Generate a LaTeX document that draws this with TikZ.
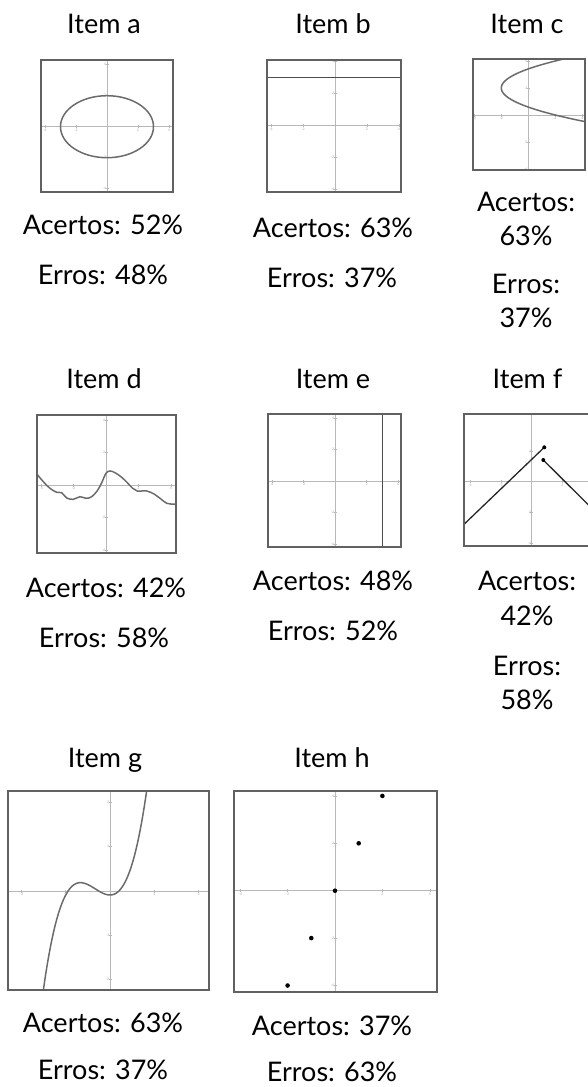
\documentclass[tikz,border=0pt]{standalone}
\usepackage{fontspec}
\setmainfont{Lato}
\usepackage{tikz}

\definecolor{framegray}{gray}{0.38}
\definecolor{axisgray}{gray}{0.72}
\definecolor{curvegray}{gray}{0.42}
\definecolor{linegray}{gray}{0.30}

\tikzset{
  frameline/.style={draw=framegray, line width=1.2pt},
  axisline/.style={draw=axisgray, line width=1pt},
  tickmark/.style={draw=axisgray, line width=0.6pt},
  ticklabel/.style={text=gray!70, font=\fontsize{3.5}{4}\selectfont, inner sep=0.5pt},
  curveline/.style={draw=curvegray, line width=1.5pt},
  graphline/.style={draw=linegray, line width=1.2pt},
  blackline/.style={draw=black!85, line width=1.3pt},
  itemtext/.style={font=\fontsize{27}{32}\selectfont, inner sep=0pt, anchor=base}
}

% axes of one small plot: left, top, right, bottom, origin x, origin y, unit, ticks
\newcommand{\plotaxes}[8]{%
  \draw[axisline] (#1,#6) -- (#3,#6);
  \draw[axisline] (#5,#2) -- (#5,#4);
  \foreach \tk in {#8} {
    \draw[tickmark] ({#5+\tk*#7},{#6-1.5}) -- ({#5+\tk*#7},{#6+1.5})
      node[ticklabel, below] {\tk};
    \draw[tickmark] ({#5-1.5},{#6-\tk*#7}) -- ({#5+1.5},{#6-\tk*#7})
      node[ticklabel, left=1.5pt] {\tk};
  }
}

\begin{document}
\begin{tikzpicture}[x=1pt, y=-1pt]
  \useasboundingbox (0,0) rectangle (587,1087);

  % item a
  \node[itemtext] (titlea) at (104,33.5) {Item a};
  \plotaxes{41}{60}{173}{192}{107}{126.7}{15.5}{-4,-2,2,4}
  \draw[curveline] (107,126.7) ellipse (46.5pt and 31pt);
  \draw[frameline] (41,60) rectangle (173,192);
  \node[itemtext] (acertosa) at (103,234.5) {Acertos: 52\%};
  \node[itemtext] (errosa) at (103,284.5) {Erros: 48\%};

  % item b
  \node[itemtext] (titleb) at (333,33.5) {Item b};
  \plotaxes{267}{60}{401}{192}{335}{125.7}{16}{-4,-2,2,4}
  \draw[graphline] (267,77.7) -- (401,77.7);
  \draw[frameline] (267,60) rectangle (401,192);
  \draw[frameline, line width=2pt] (267,192) -- (401,192);
  \node[itemtext] (acertosb) at (333,237.5) {Acertos: 63\%};
  \node[itemtext] (errosb) at (332,287.5) {Erros: 37\%};

  % item c
  \node[itemtext] (titlec) at (527,33.5) {Item c};
  \plotaxes{473}{59}{585}{170}{528.3}{115}{13.5}{-4,-2,2,4}
  \begin{scope}
    \clip (473,59) rectangle (585,170);
    \draw[curveline, smooth, domain=-1:5, samples=60]
      plot ({528.3+13.5*((\x-2)*(\x-2)-2)}, {115-13.5*\x});
  \end{scope}
  \draw[frameline] (473,59) rectangle (585,170);
  \node[itemtext] (acertosc) at (526,211) {Acertos:};
  \node[itemtext] (acertospc) at (526,245) {63\%};
  \node[itemtext] (errosc) at (526,293) {Erros:};
  \node[itemtext] (errospc) at (526,327) {37\%};

  % item d
  \node[itemtext] (titled) at (104,388.5) {Item d};
  \plotaxes{37}{415}{176}{553}{106}{485}{16.2}{-4,-2,2,4}
  \begin{scope}
    \clip (37,415) rectangle (176,553);
    \draw[curveline] plot[smooth, tension=0.6] coordinates {
      (36,473) (43.3,481.7) (50,488.3) (56.7,492.3) (61.7,492.7)
      (66.7,498) (73.3,499.3) (80,496.7) (86,498.3) (91.7,496.7)
      (97.3,490.7) (101.7,482.7) (106,473.3) (110,471) (115,472.7)
      (121.7,477.3) (127.3,482.7) (132.7,488.3) (137.3,491) (146.7,491)
      (154,494) (160,498.3) (166.7,503.3) (172,504.2) (177,504)};
  \end{scope}
  \draw[frameline] (37,415) rectangle (176,553);
  \node[itemtext] (acertosd) at (106,597.5) {Acertos: 42\%};
  \node[itemtext] (errosd) at (104,647.5) {Erros: 58\%};

  % item e
  \node[itemtext] (titlee) at (333,388.5) {Item e};
  \plotaxes{268}{414}{401}{547}{335}{481}{15.8}{-4,-2,2,4}
  \draw[graphline] (382.4,414) -- (382.4,547);
  \draw[frameline] (268,414) rectangle (401,547);
  \node[itemtext] (acertose) at (333,590) {Acertos: 48\%};
  \node[itemtext] (errose) at (333,640) {Erros: 52\%};

  % item f
  \node[itemtext] (titlef) at (527.5,388.5) {Item f};
  \plotaxes{464}{414}{590}{546}{531.7}{481.7}{15.4}{-4,-2,2}
  \coordinate (f1) at (464,524.3);
  \coordinate (f2) at (544.3,447.3);
  \coordinate (f3) at (543.3,460);
  \coordinate (f4) at (590,506.5);
  \draw[blackline] (f1) -- (f2);
  \draw[blackline] (f3) -- (f4);
  \fill[black] (f2) circle (2pt);
  \fill[black] (f3) circle (2pt);
  \draw[frameline] (590,414) -- (464,414) -- (464,546) -- (590,546);
  \node[itemtext] (acertosf) at (527,590) {Acertos:};
  \node[itemtext] (acertospf) at (527,625) {42\%};
  \node[itemtext] (errosf) at (527,675) {Erros:};
  \node[itemtext] (errospf) at (527,709.5) {58\%};

  % item g
  \node[itemtext] (titleg) at (105,767) {Item g};
  \plotaxes{8}{791}{209}{990}{110}{891}{44.3}{-2,-1,1,2}
  \begin{scope}
    \clip (8,791) rectangle (209,990);
    \draw[curveline, smooth, domain=-1.6:0.95, samples=80]
      plot ({110+44.3*\x}, {891-83.3*(\x*\x*\x+\x*\x-0.048)});
  \end{scope}
  \draw[frameline] (8,791) rectangle (209,990);
  \draw[frameline, line width=2pt] (8,990) -- (209,990);
  \node[itemtext] (acertosg) at (103,1032) {Acertos: 63\%};
  \node[itemtext] (errosg) at (103,1079) {Erros: 37\%};

  % item h
  \node[itemtext] (titleh) at (332,767) {Item h};
  \plotaxes{234}{791}{437}{992}{335}{890.7}{23.7}{-4,-2,2,4}
  \foreach \k in {-2,...,2}
    \fill[black] ({335+23.7*\k},{890.7-47.4*\k}) circle (2.3pt);
  \draw[frameline] (234,791) rectangle (437,992);
  \draw[frameline, line width=2pt] (234,992) -- (437,992);
  \node[itemtext] (acertosh) at (332,1035) {Acertos: 37\%};
  \node[itemtext] (errosh) at (332,1081) {Erros: 63\%};
\end{tikzpicture}
\end{document}
